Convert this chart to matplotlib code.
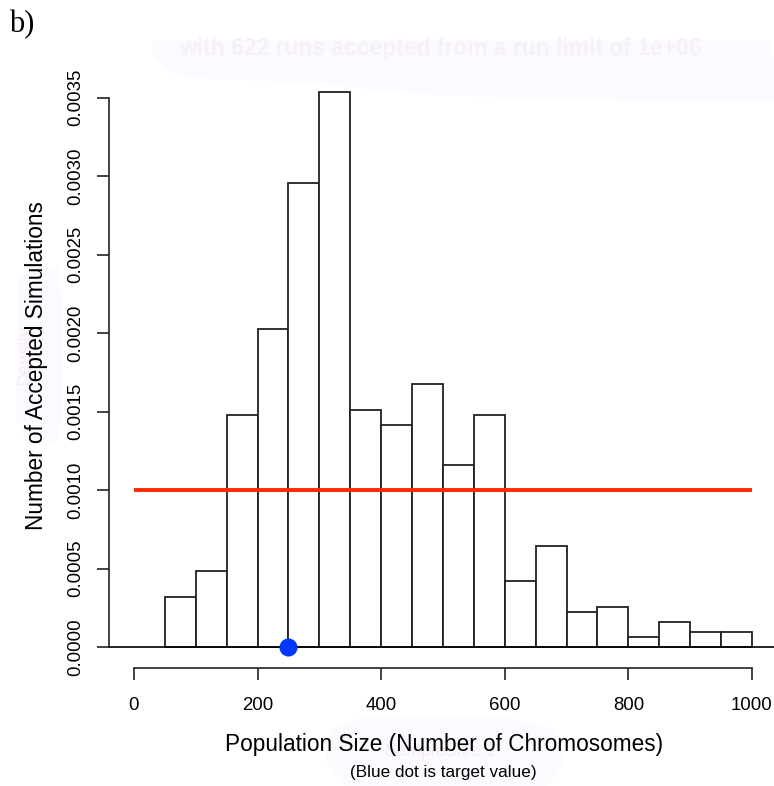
import numpy as np
import matplotlib
matplotlib.use('Agg')
import matplotlib.pyplot as plt
from matplotlib.patches import Polygon

# Accepted runs per 50-wide bin of population size
bin_edges = [50, 100, 150, 200, 250, 300, 350, 400, 450, 500,
             550, 600, 650, 700, 750, 800, 850, 900, 950, 1000]
counts = [10, 15, 46, 63, 92, 110, 47, 44, 52, 36,
          46, 13, 20, 7, 8, 2, 5, 3, 3]
n_runs = 622
run_limit = '1e+06'
prior_density = 0.001   # flat prior over 0..1000
prior_range = [0, 1000]
target_value = 250

x_ticks = [0, 200, 400, 600, 800, 1000]
y_ticks = [0.0, 0.0005, 0.0010, 0.0015, 0.0020, 0.0025, 0.0030, 0.0035]

W, H = 774, 786
fig = plt.figure(figsize=(W / 100, H / 100), dpi=100)
plt.rcParams['font.family'] = ['Liberation Sans', 'DejaVu Sans']

def fx(px):
    return px / W

def fy(py):
    return 1 - py / H

def blob(points, color='#fbfaff'):
    # soft backdrop shape given in pixel coords
    pts = [(fx(x), fy(y)) for x, y in points]
    fig.patches.append(Polygon(pts, closed=True, transform=fig.transFigure,
                               facecolor=color, edgecolor='none', zorder=0))

# axes box in pixel units: 109..774 across, 60..700 down
ax = fig.add_axes([fx(109), fy(700), fx(774) - fx(109), fy(60) - fy(700)])
ax.set_xlim(-40.45, 1035.6)
ax.set_ylim(-0.00033758, 0.0037389)
ax.patch.set_alpha(0)

edges = np.array(bin_edges, dtype=float)
widths = np.diff(edges)
density = np.array(counts) / (n_runs * widths)

ax.bar(edges[:-1], density, width=widths, align='edge',
       facecolor='white', edgecolor='#222222', linewidth=1.3, zorder=2)
ax.axhline(0, color='black', linewidth=1.2, zorder=3)

# flat prior and target value
ax.plot(prior_range, [prior_density, prior_density], color='#ff2a00',
        linewidth=2.8, solid_capstyle='butt', zorder=4)
ax.plot([target_value], [0], 'o', color='#0037ff', markersize=13,
        markeredgewidth=0, zorder=5)

for s in ['top', 'right']:
    ax.spines[s].set_visible(False)
ax.spines['left'].set_bounds(0, 0.0035)
ax.spines['bottom'].set_bounds(0, 1000)
ax.spines['bottom'].set_position(('data', -0.000134))
for s in ['left', 'bottom']:
    ax.spines[s].set_linewidth(1.2)
    ax.spines[s].set_color('#222222')

ax.set_xticks(x_ticks)
ax.set_xticklabels([str(v) for v in x_ticks])
ax.set_yticks(y_ticks)
ax.set_yticklabels(['%.4f' % v for v in y_ticks], rotation=90, va='center')
ax.tick_params(axis='both', direction='out', length=8.5, width=1.2,
               color='#222222', labelsize=13.4)
ax.tick_params(axis='x', pad=12)
ax.tick_params(axis='y', pad=9.5)

# faint leftover labels beneath the real ones
blob([(152, 40), (770, 40), (774, 60), (774, 102), (560, 100), (420, 94),
      (300, 82), (190, 78), (165, 70), (152, 55)])
fig.text(fx(440), fy(48), 'with %d runs accepted from a run limit of %s' % (n_runs, run_limit),
         ha='center', va='center', fontsize=16.5, fontweight='bold', color='#f7f0f5')

blob([(18, 280), (30, 266), (58, 268), (62, 300), (62, 420), (56, 442),
      (28, 444), (16, 420)])
fig.text(fx(25), fy(355), 'Density', rotation=90, ha='center', va='center',
         fontsize=13, color='#f8ecf1')

blob([(330, 730), (360, 718), (500, 716), (552, 728), (565, 760),
      (548, 786), (345, 786), (326, 760)])
fig.text(fx(440), fy(752), 'SampleSize.1', ha='center', va='center',
         fontsize=13, color='#f8ecf1')

# axis labels
fig.text(fx(37), fy(366), 'Number of Accepted Simulations', rotation=90,
         ha='center', va='center', fontsize=16.3)
fig.text(fx(444), fy(744), 'Population Size (Number of Chromosomes)',
         ha='center', va='center', fontsize=16.3)
fig.text(fx(443), fy(772), '(Blue dot is target value)',
         ha='center', va='center', fontsize=12.3)
fig.text(fx(9), fy(25), 'b)', ha='left', va='center', fontsize=22,
         family=['Liberation Serif', 'DejaVu Serif'])

fig.savefig('out.png', dpi=100)
